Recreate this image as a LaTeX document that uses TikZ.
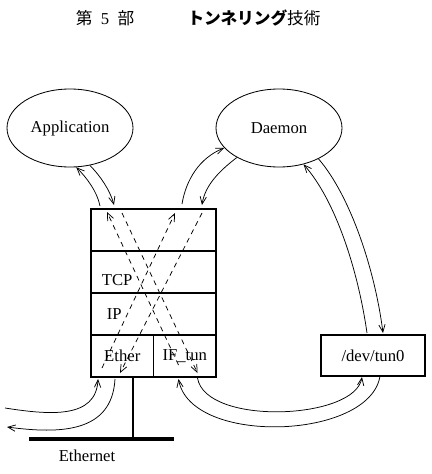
\documentclass[tikz,border=0pt]{standalone}
\usepackage{fontspec}
\setmainfont{Liberation Serif}
\newfontfamily\jpfont{Noto Sans CJK JP}
\usetikzlibrary{positioning,calc,arrows.meta,shapes.geometric}
\tikzset{
  proc/.style={draw,ellipse,line width=.5pt,minimum width=75.6pt,minimum height=46.8pt,inner sep=0pt},
  layer/.style={draw,line width=.9pt,minimum width=75pt,minimum height=25.2pt,inner sep=0pt,outer sep=0pt},
  half/.style={layer,minimum width=37.5pt},
  flow/.style={->,line width=.45pt},
  pass/.style={flow,dash pattern=on 3pt off 2.6pt}
}
\begin{document}
\begin{tikzpicture}[x=.6pt,y=-.6pt,>={Straight Barb[length=4.5pt,width=3.8pt]}]
  \useasboundingbox (0,0) rectangle (432,474);
  \node (part) at (105,18) {{\jpfont 第}\hspace{5pt}5\hspace{5pt}{\jpfont 部}};
  \node (title) at (254,18) {\jpfont{\bfseries トンネリング}技術};
  \node[proc] (app) at (70,128) {Application};
  \node[proc] (daemon) at (279,128) {Daemon};
  \node[layer] (sock) at (153.5,230) {};
  \node[layer,below=0pt of sock] (tcp) {};
  \node[layer,below=0pt of tcp] (ip) {};
  \node[half,anchor=north west] (ether) at (ip.south west) {Ether};
  \node[half,anchor=north east] (iftun) at (ip.south east) {IF\_tun};
  \node[anchor=west] (tcplbl) at ($(tcp.west)+(5,8)$) {TCP};
  \node[anchor=west] (iplbl) at ($(ip.west)+(10,0)$) {IP};
  \node[layer,minimum width=62.4pt,minimum height=24.6pt] (devtun) at (373,355.5) {/dev/tun0};
  \coordinate (barL) at (29,439);
  \coordinate (barR) at (174,439);
  \coordinate (wireIn) at (5,408);
  \coordinate (wireOut) at (7,427);
  \draw[line width=2.4pt] (barL) -- (barR);
  \draw[line width=.8pt] ($(ether.south west)+(42,0)$) coordinate (drop) -- (drop |- barL);
  \node (ethlbl) at (87,456) {Ethernet};
  \draw[flow] ($(sock.north west)+(9,-3)$) .. controls +(-3,-15) and +(10,10) .. (app.-81);
  \draw[flow] (app.-62) .. controls +(10,10) and +(-4,-15) .. ($(sock.north west)+(23,-4)$);
  \draw[flow] ($(sock.north west)+(91,-5)$) .. controls +(4,-24) and +(-25,10) .. (daemon.200);
  \draw[flow] (daemon.215) .. controls +(-17,13) and +(3,-20) .. ($(sock.north west)+(111,-4)$);
  \draw[flow] ($(devtun.north west)+(46,-2)$) .. controls +(-9,-63) and +(32,36) .. (daemon.304);
  \draw[flow] (daemon.322) .. controls +(32,37) and +(-8,-63) .. ($(devtun.north west)+(62,-2)$);
  \draw[flow] (wireIn) .. controls +(45,7) and +(-2,40) .. ($(ether.south west)+(7,2)$);
  \draw[flow] ($(ether.south west)+(24,2)$) .. controls +(-3,54) and +(53,7) .. (wireOut);
  \draw[flow] ($(iftun.south west)+(44,1)$) .. controls +(8,48) and +(-7,43) .. ($(devtun.south west)+(41,1)$);
  \draw[flow] ($(devtun.south west)+(59,0)$) .. controls +(-10,64) and +(12,67) .. ($(iftun.south west)+(25,2)$);
  \draw[pass] ($(iftun.south west)+(25,-12)$) -- ($(sock.north west)+(16,3)$);
  \draw[pass] ($(sock.north west)+(31,4)$) -- ($(iftun.south west)+(44,-4)$);
  \draw[pass] ($(ether.south west)+(11,-9)$) -- ($(sock.north west)+(84,4)$);
  \draw[pass] ($(sock.north west)+(111,4)$) -- ($(ether.south west)+(29,-4)$);
\end{tikzpicture}
\end{document}
